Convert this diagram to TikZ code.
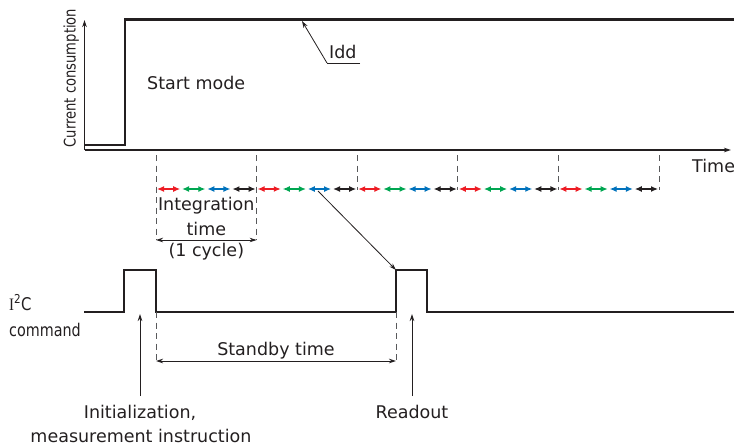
\documentclass[tikz,border=0pt]{standalone}
\usepackage{fontspec}
\setmainfont{DejaVu Sans}
\newfontfamily\timesfont{Liberation Serif}
\usetikzlibrary{arrows.meta, positioning}

\definecolor{ink}{HTML}{231F20}
\definecolor{segred}{HTML}{ED1C24}
\definecolor{seggreen}{HTML}{00A651}
\definecolor{segblue}{HTML}{0072BC}
\definecolor{dashgray}{HTML}{58595B}

\begin{document}
\begin{tikzpicture}[x=1pt, y=-1pt, >={Stealth[length=7pt,width=4.5pt]}]
        \tikzset{
            txt/.style={inner sep=0pt, text=ink, font=\fontsize{17.5}{21}\selectfont, anchor=base},
            narrow/.style={txt, font=\fontsize{17.5}{21}\selectfont},
            level/.style={line width=2.5pt, draw=ink},
            axis/.style={line width=1.4pt, draw=ink},
            signal/.style={line width=1.1pt, draw=ink},
            guide/.style={draw=dashgray, line width=0.9pt, dash pattern=on 6pt off 4.5pt},
            dim/.style={<->, line width=0.9pt, draw=ink},
            seg/.style={{Latex[length=7pt,width=6pt]}-{Latex[length=7pt,width=6pt]}, line width=1.2pt, shorten <=1pt, shorten >=1pt}
        }
        \useasboundingbox (0,0) rectangle (734,445);

        % axes
        \coordinate (origin) at (84.5,150);
        \coordinate (ytop) at (84.5,20);
        \coordinate (xend) at (731,150);
        \draw[axis, ->] (origin) -- (ytop);
        \draw[axis, ->] (origin) -- (xend);
        \node[narrow, rotate=90, font=\fontsize{16}{19}\selectfont] (ylab) at (75.5,78) {\scalebox{0.82}[1]{Current consumption}};
        \node[txt, anchor=base west] (timelab) at (692,172) {Time};

        % current consumption
        \coordinate (idle) at (85,145);
        \coordinate (stepup) at (125,145);
        \coordinate (stepdone) at (125,19.5);
        \coordinate (full) at (734,19.5);
        \draw[level] (idle) -- (stepup) -- (stepdone) -- (full);
        \node[txt, anchor=base west] (start) at (147,89) {Start mode};
        \node[txt, anchor=base west] (idd) at (329,58) {Idd};
        \coordinate (iddline) at (327,63);
        \coordinate (iddend) at (360,63);
        \coordinate (iddtip) at (302,21);
        \draw[line width=0.8pt, ink] (iddend) -- (iddline);
        \draw[line width=0.8pt, ink, ->] (iddline) -- (iddtip);

        % measurement cycles
        \foreach \i in {0,...,5} {
            \coordinate (t\i) at (156+100.6*\i,155);
            \draw[guide] (t\i) -- ++(0,35);
        }
        \foreach \i in {0,...,4}
            \foreach \c [count=\k from 0] in {segred,seggreen,segblue,ink}
                \draw[seg, \c] (156+100.6*\i+25.15*\k,189) -- ++(25.15,0);

        % integration time
        \coordinate (ia) at (156,240);
        \coordinate (ib) at (256.6,240);
        \draw[guide] (t0) -- (ia);
        \draw[guide] (t1) -- (ib);
        \draw[dim] (ia) -- (ib);
        \node[txt] (intg) at (206.3,210) {Integration};
        \node[txt] (intgtime) at (206.3,235) {time};
        \node[txt] (cycle) at (206.3,256) {(1 cycle)};

        % I2C command
        \node[narrow, anchor=base west] (i2c) at (9,310) {\scalebox{0.85}[1]{{\timesfont I}\textsuperscript{2}C}};
        \node[narrow, anchor=base west] (cmd) at (9,336) {\scalebox{0.82}[1]{command}};
        \coordinate (b0) at (84,312);
        \coordinate (p1a) at (124,312);
        \coordinate (p1b) at (124,270);
        \coordinate (p1c) at (156,270);
        \coordinate (p1d) at (156,312);
        \coordinate (p2a) at (396,312);
        \coordinate (p2b) at (396,270);
        \coordinate (p2c) at (427,270);
        \coordinate (p2d) at (427,312);
        \coordinate (b1) at (734,312);
        \draw[signal] (b0) -- (p1a) -- (p1b) -- (p1c) -- (p1d) -- (p2a) -- (p2b) -- (p2c) -- (p2d) -- (b1);

        % readout pointer
        \coordinate (pick) at (318,191);
        \draw[line width=0.8pt, ink, ->] (pick) -- (p2b);

        % standby time
        \coordinate (sa) at (156,361);
        \coordinate (sb) at (396,361);
        \draw[guide] (p1d) -- ++(0,52);
        \draw[guide] (p2a) -- ++(0,52);
        \draw[dim] (sa) -- (sb);
        \node[txt] (standby) at (276,355) {Standby time};

        % events
        \coordinate (inituse) at (140,396);
        \coordinate (inittip) at (140,314);
        \coordinate (readuse) at (412,396);
        \coordinate (readtip) at (412,314);
        \draw[line width=0.8pt, ink, ->] (inituse) -- (inittip);
        \draw[line width=0.8pt, ink, ->] (readuse) -- (readtip);
        \node[txt] (init) at (140,418) {Initialization,};
        \node[txt] (meas) at (141,442) {measurement instruction};
        \node[txt] (readout) at (412,418) {Readout};

    \end{tikzpicture}
\end{document}
